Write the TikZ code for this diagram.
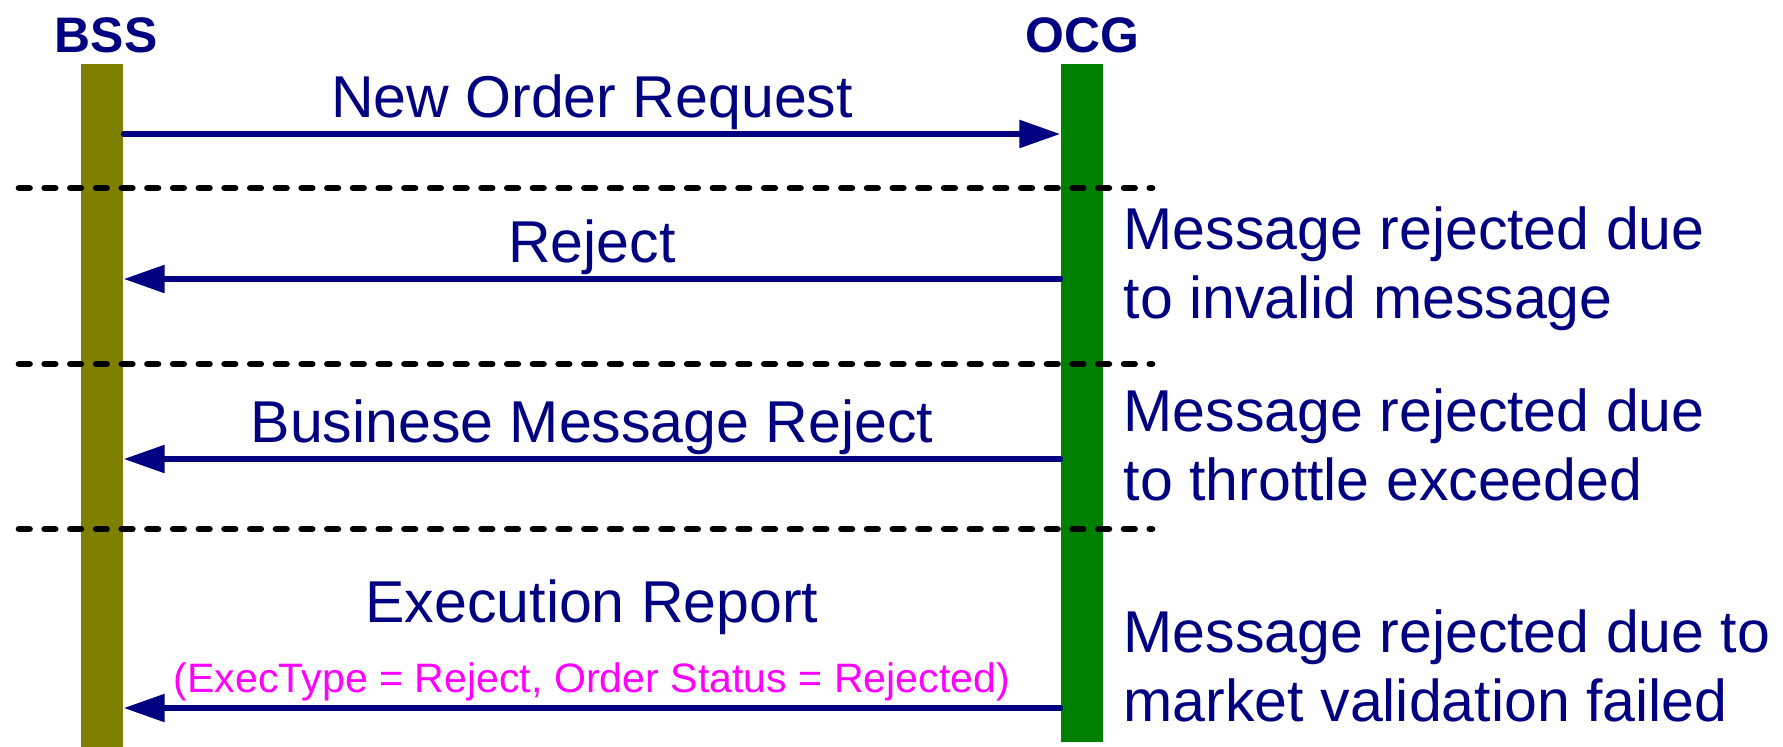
\documentclass[tikz,border=0pt]{standalone}
\usepackage{fontspec}
\setmainfont{Liberation Sans}
\usetikzlibrary{arrows.meta,positioning}
\definecolor{navy}{RGB}{0,0,128}
\definecolor{barolive}{RGB}{128,128,0}
\definecolor{bargreen}{RGB}{0,128,0}
\definecolor{note}{RGB}{255,0,255}

\begin{document}
\begin{tikzpicture}[x=0.1mm,y=-0.1mm,
    bar/.style={draw=none,minimum width=4.2mm,inner sep=0pt,anchor=north},
    actor/.style={text=navy,font=\fontsize{14.2}{17}\selectfont\bfseries,anchor=base,inner sep=0pt},
    msg/.style={draw=navy,line width=0.57mm,line cap=round,-{Triangle[length=4.1mm,width=2.7mm]}},
    lbl/.style={text=navy,font=\fontsize{16.8}{19.6}\selectfont,anchor=base,inner sep=0pt},
    sub/.style={text=note,font=\fontsize{11.7}{14}\selectfont,anchor=base,inner sep=0pt},
    cmt/.style={text=navy,font=\fontsize{16.8}{19.6}\selectfont,align=left,anchor=base west,inner sep=0pt},
    sep/.style={line width=0.67mm,line cap=round,dash pattern=on 1.05mm off 1.52mm}]
  \useasboundingbox (0,0) rectangle (1783,746);

  % lifelines
  \node[bar,fill=barolive,minimum height=68.3mm] (bssbar) at (102,63) {};
  \node[bar,fill=bargreen,minimum height=67.8mm] (ocgbar) at (1082,63) {};
  \node[actor] (bss) at ([xshift=0.4mm,yshift=1.1mm]bssbar.north) {BSS};
  \node[actor] (ocg) at ([yshift=1.1mm]ocgbar.north) {OCG};

  % separators
  \foreach \y in {188,364,529}
    \draw[sep] (19,\y) -- (1152,\y);

  % messages
  \coordinate (m1) at (0,134);
  \coordinate (m2) at (0,279);
  \coordinate (m3) at (0,459);
  \coordinate (m4) at (0,708);
  \draw[msg] (bssbar.east |- m1) -- node[lbl,yshift=1.7mm] {New Order Request} (ocgbar.west |- m1);
  \draw[msg] (ocgbar.west |- m2) -- node[lbl,yshift=1.7mm] {Reject} (bssbar.east |- m2);
  \draw[msg] (ocgbar.west |- m3) -- node[lbl,yshift=1.7mm] {Businese Message Reject} (bssbar.east |- m3);
  \draw[msg] (ocgbar.west |- m4) -- node[lbl,yshift=8.6mm] {Execution Report}
    node[sub,yshift=1.6mm] {(ExecType = Reject, Order Status = Rejected)} (bssbar.east |- m4);

  % reasons
  \node[cmt] (why1) at (1123,318) {Message rejected due\\to invalid message};
  \node[cmt] (why2) at (1123,500) {Message rejected due\\to throttle exceeded};
  \node[cmt] (why3) at (1123,721) {Message rejected due to\\market validation failed};
\end{tikzpicture}
\end{document}
